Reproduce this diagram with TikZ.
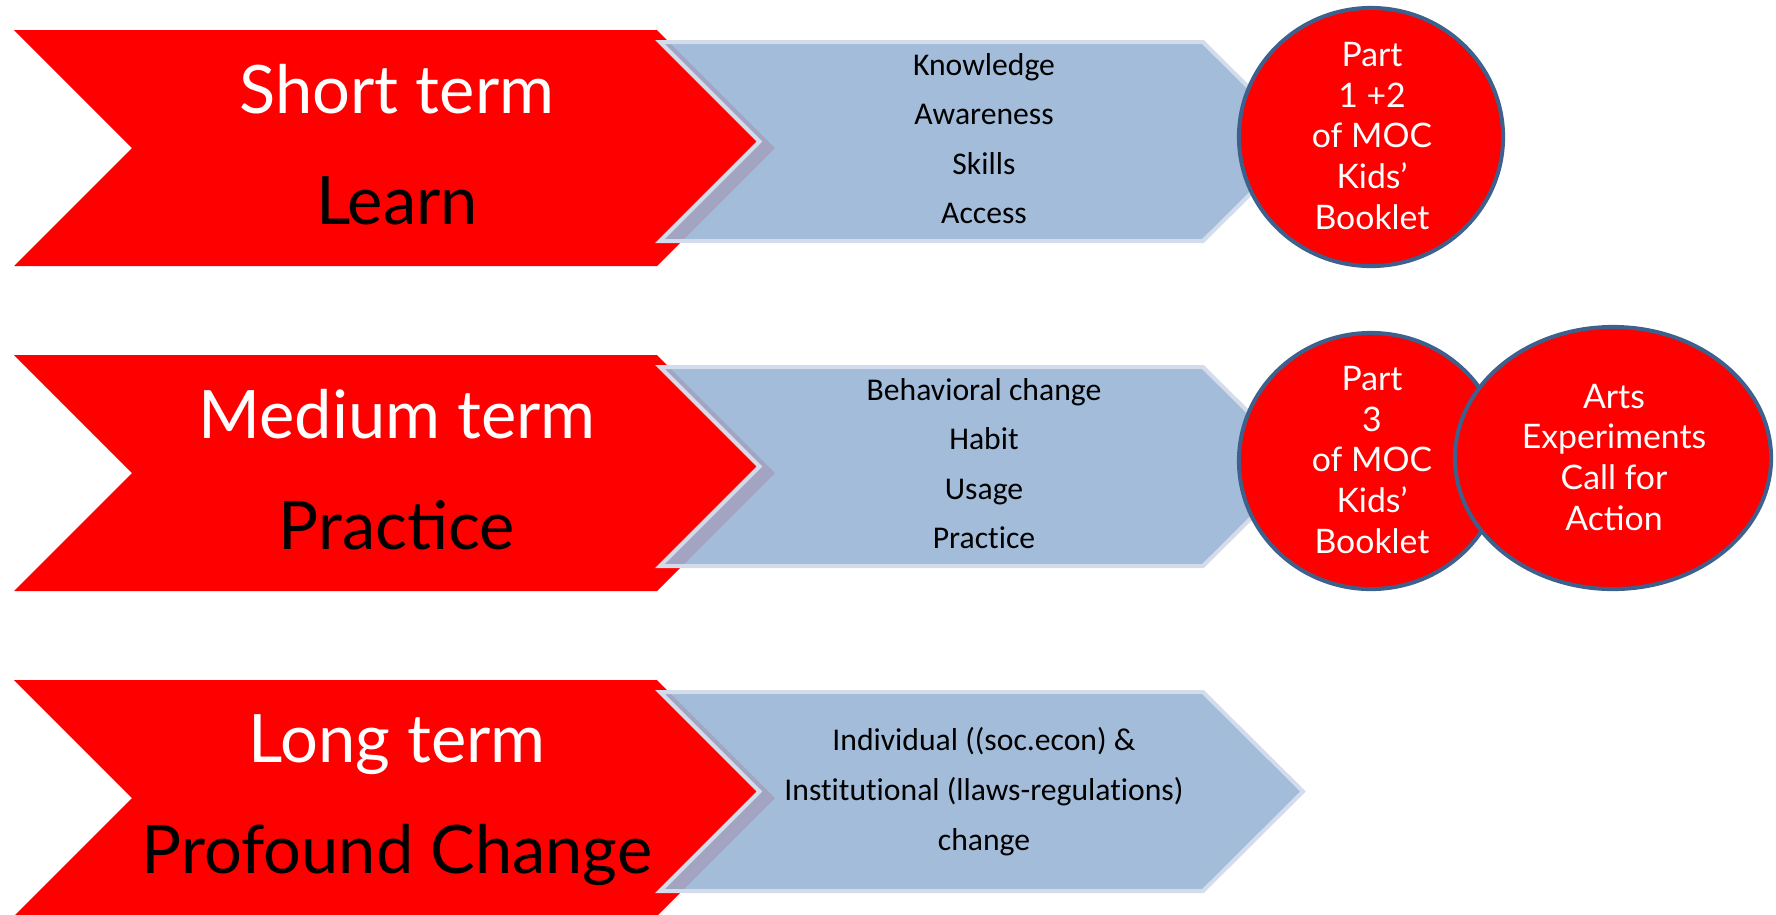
\documentclass[tikz,border=0pt]{standalone}
\usepackage{fontspec}
\setmainfont{Lato}
\newfontfamily\bluefont{Carlito}[Ligatures={NoCommon,NoContextual}]
\usetikzlibrary{shapes.geometric}
\definecolor{chevred}{RGB}{255,0,0}
\definecolor{arrowblue}{RGB}{153,181,214}
\definecolor{arrowedge}{RGB}{212,220,236}
\definecolor{ringblue}{RGB}{62,96,140}
\newcommand{\nolig}{\kern0pt\relax}
\begin{document}
\begin{tikzpicture}[x=0.01cm,y=-0.01cm,
  redchev/.style={fill=chevred},
  bluechev/.style={fill=arrowblue, fill opacity=0.91, draw=arrowedge, line width=1.14pt, line join=miter},
  bigw/.style={anchor=base, inner sep=0pt, text=white, font=\fontsize{19}{22}\selectfont},
  bigb/.style={anchor=base, inner sep=0pt, text=black, font=\fontsize{19}{22}\selectfont},
  item/.style={anchor=base, inner sep=0pt, text=black, font=\bluefont\fontsize{9}{11}\selectfont},
  ring/.style={ellipse, fill=chevred, draw=ringblue, line width=1.14pt, inner sep=0pt, outer sep=0pt},
  ringtxt/.style={anchor=base, inner sep=0pt, text=white, font=\fontsize{9.6}{11}\selectfont}]
\useasboundingbox (0,0) rectangle (1776,914);
% red chevrons
\foreach \T in {30,355,680}{
  \fill[redchev] (14,\T) -- (657,\T) -- (775,{\T+118}) -- (657,{\T+236}) -- (14,{\T+236}) -- (132,{\T+118}) -- cycle;
}
% blue chevrons
\foreach \T in {30,355,680}{
  \path[bluechev] (660,{\T+12}) -- (1203,{\T+12}) -- (1303,{\T+111.5}) -- (1203,{\T+211}) -- (660,{\T+211}) -- (759.5,{\T+111.5}) -- cycle;
}
% red texts
\node[bigw] (st) at (397,113) {Short term};
\node[bigb] (ln) at (397,224) {Learn};
\node[bigw] (mt) at (397,438) {Medium term};
\node[bigb] (pr) at (397,549) {Practice};
\node[bigw] (lt) at (397,762) {Long term};
\node[bigb] (pc) at (397,873) {Profound Change};
% blue texts
\node[item] (k1) at (984,75) {Knowledge};
\node[item] (k2) at (984,124.5) {Awareness};
\node[item] (k3) at (984,174) {Skills};
\node[item] (k4) at (984,223) {Access};
\node[item] (b1) at (984,400) {Behavioral change};
\node[item] (b2) at (984,449.5) {Habit};
\node[item] (b3) at (984,499) {Usage};
\node[item] (b4) at (984,548) {Practice};
\node[item] (c1) at (984,750) {Individual ((soc.econ) \&};
\node[item] (c2) at (984,800) {Inst\nolig itut\nolig ional (llaws-regulat\nolig ions)};
\node[item] (c3) at (984,850) {change};
% circles
\node[ring, minimum width=2.64cm, minimum height=2.58cm] (r1) at (1371,137) {};
\node[ring, minimum width=2.64cm, minimum height=2.56cm] (r2) at (1371,461) {};
\node[ring, minimum width=3.16cm, minimum height=2.62cm] (r3) at (1613,458) {};
% circle texts
\node[ringtxt] (p1a) at (1372,66) {Part};
\node[ringtxt] (p1b) at (1372,107) {1 +2};
\node[ringtxt] (p1c) at (1372,147) {of MOC};
\node[ringtxt] (p1d) at (1372,188) {Kids’};
\node[ringtxt] (p1e) at (1372,229) {Booklet};
\node[ringtxt] (p2a) at (1372,390) {Part};
\node[ringtxt] (p2b) at (1372,431) {3};
\node[ringtxt] (p2c) at (1372,471) {of MOC};
\node[ringtxt] (p2d) at (1372,512) {Kids’};
\node[ringtxt] (p2e) at (1372,553) {Booklet};
\node[ringtxt] (a1) at (1614,408) {Arts};
\node[ringtxt] (a2) at (1614,448) {Experiments};
\node[ringtxt] (a3) at (1614,489) {Call for};
\node[ringtxt] (a4) at (1614,530) {Action};
\end{tikzpicture}
\end{document}
